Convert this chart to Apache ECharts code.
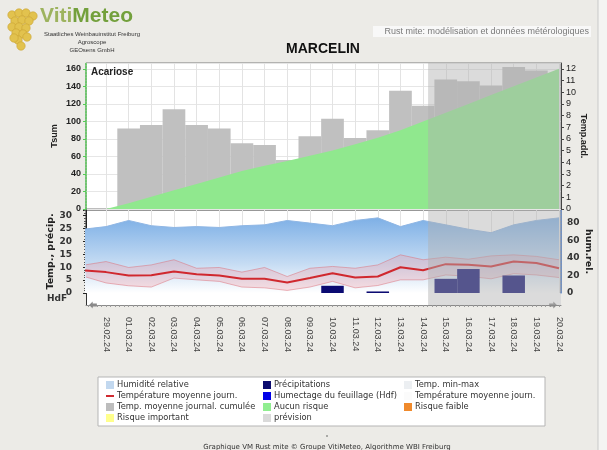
<!DOCTYPE html>
<html>
<head>
<meta charset="utf-8">
<script src="https://cdn.jsdelivr.net/npm/echarts@6.0.0/dist/echarts.min.js"></script>
<style>
  html, body { margin: 0; padding: 0; background: #ecebe7; }
  #chart { width: 607px; height: 450px; }
</style>
</head>
<body>
<div id="chart"></div>
<script>
// dates, first one (28.02) sits just left of the plot
const days = ['28.02.24','29.02.24','01.03.24','02.03.24','03.03.24','04.03.24','05.03.24','06.03.24',
  '07.03.24','08.03.24','09.03.24','10.03.24','11.03.24','12.03.24','13.03.24','14.03.24','15.03.24',
  '16.03.24','17.03.24','18.03.24','19.03.24','20.03.24'];

// upper panel
const tsum    = [null, null, 92, 96, 114, 96, 92, 75, 73, 56, 83, 103, 81, 90, 135, 118, 148, 146, 141, 162, 158, null];
const tempAdd = [null, 0, 0.5, 1.05, 1.6, 2.15, 2.7, 3.25, 3.7, 4.1, 4.55, 5.0, 5.55, 6.1, 6.75, 7.5, 8.25, 9.0, 9.75, 10.5, 11.25, 12.0];

// lower panel
const humidity = [73, 76, 83, 77, 75, 76, 75, 77, 78, 83, 80, 77, 83, 86, 76, 83, 78, 73, 69, 78, 83, 86];
const tempMean = [8.8, 8.1, 6.8, 6.9, 8.3, 7.3, 6.8, 5.5, 5.5, 4.1, 5.8, 7.7, 6.0, 6.4, 10.0, 8.8, 11.2, 11.0, 10.3, 12.2, 11.6, 9.6];
const tempMax  = [10.8, 12.2, 9.9, 10.9, 12.9, 9.6, 9.9, 8.1, 9.9, 6.4, 9.6, 10.3, 9.6, 10.9, 14.8, 12.9, 13.9, 13.1, 14.4, 14.8, 14.2, 12.9];
const tempMin  = [6.5, 3.9, 2.8, 2.3, 5.8, 5.1, 4.5, 2.3, 2.0, 1.0, 2.3, 4.5, 2.0, 2.9, 5.1, 5.1, 7.0, 6.5, 5.5, 7.5, 7.0, 6.0];
const precip   = [0, 0, 0, 0, 0, 0, 0, 0, 0, 0, 0, 2.8, 0, 0.6, 0, 0, 5.5, 9.3, 0, 6.8, 0, 0];

const forecastFrom = 14.22;   // prévision starts here (days after 29.02)

const legendItems = [
  ['Humidité relative', '#c2d8ef', 'box'],
  ['Température moyenne journ.', '#d02a30', 'line'],
  ['Temp. moyenne journal. cumulée', '#bdbdbd', 'box'],
  ['Risque important', '#ffff8c', 'box'],
  ['Précipitations', '#0b0b6e', 'box'],
  ['Humectage du feuillage (Hdf)', '#0000e8', 'box'],
  ['Aucun risque', '#90ee90', 'box'],
  ['prévision', '#dadada', 'box'],
  ['Temp. min-max', '#eceff2', 'box'],
  ['Température moyenne journ.', '#fbfbfb', 'box'],
  ['Risque faible', '#f08a2c', 'box']
];

const xMin = -0.883, xMax = 20.088;
const dayTicks = days.slice(1).map((d, i) => i);
const fineTicks = [];
for (let v = -0.8; v <= 20.01; v += 0.2) fineTicks.push(+v.toFixed(2));

const pts = arr => arr.map((v, i) => [i - 1, v]).filter(p => p[1] !== null);

const chart = echarts.init(document.getElementById('chart'));

function xAxisFor(gi, extra) {
  return Object.assign({
    type: 'value', gridIndex: gi, min: xMin, max: xMax,
    axisLine: { show: false, onZero: false },
    axisTick: { show: false, customValues: dayTicks },
    axisLabel: { show: false },
    splitLine: { show: true, lineStyle: { color: '#e3e3e3', width: 1 } }
  }, extra || {});
}

function shade(xi, yi) {
  return {
    type: 'line', xAxisIndex: xi, yAxisIndex: yi, data: [], silent: true, z: 10,
    markArea: {
      silent: true, z: 20,
      label: { show: false },
      itemStyle: { color: 'rgba(175,175,175,0.45)' },
      data: [[{ xAxis: forecastFrom }, { xAxis: xMax }]]
    }
  };
}

const humGrad = new echarts.graphic.LinearGradient(0, 0, 0, 1, [
  { offset: 0, color: '#7eb0e6' },
  { offset: 0.6, color: '#c4dbf3' },
  { offset: 1, color: '#ffffff' }
]);

// legend + decoration
const graphics = [];
graphics.push({ type: 'rect', z: -1, shape: { x: 598, y: 0, width: 9, height: 450 }, style: { fill: '#f4f4f2' } });
graphics.push({ type: 'line', z: -1, shape: { x1: 598, y1: 0, x2: 598, y2: 450 }, style: { stroke: '#c9c9c9', lineWidth: 1 } });

// grapes
const grapes = [[12,15],[19,13],[26,13],[33,16],[15,21],[22,20],[29,21],[12,27],[19,27],[26,28],[16,33],[23,34],[18,40],[21,46],[14,38],[27,37]];
grapes.forEach(g => graphics.push({ type: 'circle', shape: { cx: g[0], cy: g[1], r: 4.2 },
  style: { fill: '#e2c24e', stroke: '#c9a232', lineWidth: 0.6 } }));
graphics.push({ type: 'text', x: 40, y: 6, style: {
  text: '{a|Viti}{b|Meteo}', font: 'bold 21px "Liberation Sans"',
  rich: { a: { fill: '#9db35e', font: 'bold 21px "Liberation Sans"' }, b: { fill: '#73a03c', font: 'bold 21px "Liberation Sans"' } }
} });
[['Staatliches Weinbauinstitut Freiburg', 34], ['Agroscope', 42], ['GEOsens GmbH', 50]].forEach(t =>
  graphics.push({ type: 'text', x: 92, y: t[1], style: { text: t[0], font: '6px "Liberation Sans"', fill: '#333',
    align: 'center', verticalAlign: 'middle', textAlign: 'center', textVerticalAlign: 'middle' } }));

// subtitle box
graphics.push({ type: 'rect', shape: { x: 373, y: 26, width: 218, height: 11 }, style: { fill: '#f8f8f8' } });
graphics.push({ type: 'text', x: 589, y: 32, style: { text: 'Rust mite: modélisation et données métérologiques',
  font: '9px "Liberation Sans"', fill: '#7a7a7a', align: 'right', verticalAlign: 'middle', textAlign: 'right', textVerticalAlign: 'middle' } });

// title
graphics.push({ type: 'text', x: 323, y: 49, style: { text: 'MARCELIN', font: 'bold 14px "Liberation Sans"', fill: '#111',
  align: 'center', verticalAlign: 'middle', textAlign: 'center', textVerticalAlign: 'middle' } });
graphics.push({ type: 'text', x: 91, y: 72, z: 20, style: { text: 'Acariose', font: 'bold 10px "Liberation Sans"', fill: '#222',
  verticalAlign: 'middle', textVerticalAlign: 'middle' } });
graphics.push({ type: 'text', x: 57, y: 299, style: { text: 'HdF', font: 'bold 9px "DejaVu Sans"', fill: '#333',
  align: 'center', verticalAlign: 'middle', textAlign: 'center', textVerticalAlign: 'middle' } });

// legend box
graphics.push({ type: 'rect', shape: { x: 98, y: 377, width: 447, height: 49 }, style: { fill: '#ffffff', stroke: '#b5b5b5', lineWidth: 1 } });
const colX = [106, 263, 404];
legendItems.forEach((it, i) => {
  const col = Math.floor(i / 4), row = i % 4;
  const x = colX[col], y = 385 + row * 11;
  if (it[2] === 'line') {
    graphics.push({ type: 'rect', shape: { x: x, y: y - 1, width: 8, height: 2 }, style: { fill: it[1] } });
  } else {
    graphics.push({ type: 'rect', shape: { x: x, y: y - 4, width: 8, height: 8 }, style: { fill: it[1] } });
  }
  graphics.push({ type: 'text', x: x + 11, y: y, style: { text: it[0], font: '8.3px "DejaVu Sans"', fill: '#333',
    verticalAlign: 'middle', textVerticalAlign: 'middle' } });
});

graphics.push({ type: 'circle', shape: { cx: 327, cy: 436, r: 0.8 }, style: { fill: '#555' } });
graphics.push({ type: 'text', x: 327, y: 447, style: { text: 'Graphique VM Rust mite © Groupe VitiMeteo, Algorithme WBI Freiburg',
  font: '7px "DejaVu Sans"', fill: '#333', align: 'center', verticalAlign: 'middle', textAlign: 'center', textVerticalAlign: 'middle' } });

const axisFont = { fontFamily: 'Liberation Sans', fontSize: 9, color: '#222' };
const bandEdge = 'rgba(220,110,120,0.5)';
const arrowPath = 'path://M5,0 L10,5 L7,5 L7,11 L3,11 L3,5 L0,5 Z';

chart.setOption({
  animation: false,
  backgroundColor: '#ecebe7',
  grid: [
    { left: 86, top: 63, width: 475, height: 146, show: true, backgroundColor: '#fff', borderColor: '#7a7a7a', borderWidth: 1 },
    { left: 86, top: 210, width: 475, height: 83, show: true, backgroundColor: '#fff', borderColor: '#333', borderWidth: 1 },
    { left: 86, top: 293, width: 475, height: 12, show: true, backgroundColor: '#fff', borderWidth: 0 }
  ],
  xAxis: [
    xAxisFor(0),
    xAxisFor(1),
    xAxisFor(2, {
      axisLine: { show: true, onZero: false, lineStyle: { color: '#8a8a8a', width: 1 },
        symbol: [arrowPath, arrowPath], symbolSize: [7, 13], symbolOffset: [7, -8] },
      axisTick: { show: true, customValues: fineTicks, length: 2, lineStyle: { color: '#9a9a9a' } },
      axisLabel: { show: true, customValues: dayTicks, rotate: -90, margin: 12,
        fontFamily: 'Liberation Sans', fontSize: 9, color: '#444',
        formatter: v => days[Math.round(v) + 1] },
      splitLine: { show: false }
    })
  ],
  yAxis: [
    { type: 'value', gridIndex: 0, min: 0, max: 166.7, interval: 20,
      axisLine: { show: true, onZero: false, lineStyle: { color: '#55cc55', type: 'dotted', width: 1.5 } },
      axisTick: { show: true, length: 3, lineStyle: { color: '#55cc55' } },
      axisLabel: Object.assign({ fontWeight: 'bold', showMaxLabel: false, margin: 5 }, axisFont),
      splitLine: { show: true, lineStyle: { color: '#e6e6e6' } },
      name: 'Tsum', nameLocation: 'middle', nameRotate: 90, nameGap: 27, nameMoveOverlap: false,
      nameTextStyle: { fontFamily: 'Liberation Sans', fontWeight: 'bold', fontSize: 9, color: '#222' } },
    { type: 'value', gridIndex: 0, position: 'right', min: 0, max: 12.5, interval: 1,
      axisLine: { show: true, onZero: false, lineStyle: { color: '#444' } },
      axisTick: { show: true, length: 3, lineStyle: { color: '#444' } },
      axisLabel: Object.assign({ showMaxLabel: false, margin: 5 }, axisFont),
      splitLine: { show: false },
      name: 'Temp.add.', nameLocation: 'middle', nameRotate: -90, nameGap: 18, nameMoveOverlap: false,
      nameTextStyle: { fontFamily: 'Liberation Sans', fontWeight: 'bold', fontSize: 9, color: '#222' } },
    { type: 'value', gridIndex: 1, min: 0, max: 32.2, interval: 5,
      axisLine: { show: true, onZero: false, lineStyle: { color: '#222' } },
      axisTick: { show: true, length: 3, lineStyle: { color: '#222' } },
      minorTick: { show: true, splitNumber: 5, length: 2, lineStyle: { color: '#555' } },
      axisLabel: { fontFamily: 'DejaVu Sans', fontWeight: 'bold', fontSize: 9, color: '#333', showMaxLabel: false, margin: 14 },
      splitLine: { show: false },
      name: 'Temp., précip.', nameLocation: 'middle', nameRotate: 90, nameGap: 30, nameMoveOverlap: false,
      nameTextStyle: { fontFamily: 'DejaVu Sans', fontWeight: 'bold', fontSize: 9.5, color: '#222' } },
    { type: 'value', gridIndex: 1, position: 'right', min: 0, max: 95, interval: 20,
      axisLine: { show: true, onZero: false, lineStyle: { color: '#6a93d6', type: 'dotted', width: 1.5 } },
      axisTick: { show: false },
      axisLabel: { fontFamily: 'DejaVu Sans', fontWeight: 'bold', fontSize: 9, color: '#333', showMaxLabel: false, margin: 6 },
      splitLine: { show: false },
      name: 'hum.rel.', nameLocation: 'middle', nameRotate: -90, nameGap: 22, nameMoveOverlap: false,
      nameTextStyle: { fontFamily: 'DejaVu Sans', fontWeight: 'bold', fontSize: 9.5, color: '#222' } },
    { type: 'value', gridIndex: 2, min: 0, max: 1,
      axisLine: { show: true, onZero: false, lineStyle: { color: '#333' } },
      axisTick: { show: false }, axisLabel: { show: false }, splitLine: { show: false } }
  ],
  series: [
    { name: 'Temp. moyenne journal. cumulée', type: 'bar', xAxisIndex: 0, yAxisIndex: 0, data: pts(tsum),
      barWidth: 22.7, itemStyle: { color: '#c0c0c0' }, z: 2, silent: true },
    { name: 'Aucun risque', type: 'line', xAxisIndex: 0, yAxisIndex: 1, data: pts(tempAdd), symbol: 'none',
      lineStyle: { width: 0 }, areaStyle: { color: '#90e88e', opacity: 1 }, z: 3, silent: true },
    shade(0, 0),
    { name: 'Humidité relative', type: 'line', xAxisIndex: 1, yAxisIndex: 3, data: pts(humidity), symbol: 'none',
      lineStyle: { width: 1, color: '#8fb6e4' }, areaStyle: { color: humGrad, opacity: 1 }, z: 2, silent: true },
    { name: 'Temp. min-max', type: 'custom', xAxisIndex: 1, yAxisIndex: 2, clip: true, z: 3, silent: true,
      data: tempMax.map((v, i) => [i - 1, tempMin[i], v]),
      encode: { x: 0, y: [1, 2] },
      renderItem: function (params, api) {
        if (params.dataIndex !== 0) return;
        const upper = tempMax.map((v, i) => api.coord([i - 1, v]));
        const lower = tempMin.map((v, i) => api.coord([i - 1, v]));
        return { type: 'group', children: [
          { type: 'polygon', shape: { points: upper.concat(lower.slice().reverse()) }, style: { fill: 'rgba(240,150,160,0.3)' } },
          { type: 'polyline', shape: { points: upper }, style: { stroke: bandEdge, lineWidth: 1, fill: null } },
          { type: 'polyline', shape: { points: lower }, style: { stroke: bandEdge, lineWidth: 1, fill: null } }
        ] };
      } },
    { name: 'Température moyenne journ.', type: 'line', xAxisIndex: 1, yAxisIndex: 2, data: pts(tempMean), symbol: 'none',
      lineStyle: { width: 2, color: '#d0282e' }, z: 4, silent: true },
    { name: 'Précipitations', type: 'bar', xAxisIndex: 1, yAxisIndex: 2, data: pts(precip),
      barWidth: 22.5, itemStyle: { color: '#0b0b72' }, z: 5, silent: true },
    shade(1, 2),
    shade(2, 4)
  ],
  graphic: graphics
});
</script>
</body>
</html>
